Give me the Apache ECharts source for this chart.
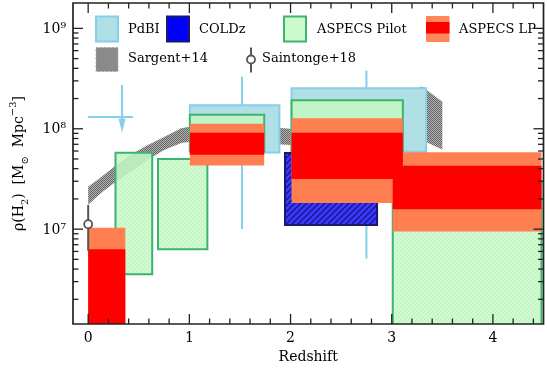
<!DOCTYPE html>
<html><head><meta charset="utf-8">
<script src="https://cdn.jsdelivr.net/npm/echarts@6/dist/echarts.min.js"></script>
<style>html,body{margin:0;padding:0;background:#fff}#c{width:547px;height:376px}</style>
</head><body><div id="c"></div>
<script>
// ---------- data ----------
const xTickValues = [0, 1, 2, 3, 4];
const xTickLabels = ['0', '1', '2', '3', '4'];
const yTickValues = [1e7, 1e8, 1e9];
const yTickLabels = ['10⁷', '10⁸', '10⁹'];

// Sargent+14 band
const sargentZ  = [0, 0.13, 0.26, 0.42, 0.59, 0.75, 0.92, 1.0, 1.5, 2.0, 2.5, 3.0, 3.3, 3.5];
const sargentLo = [1.75e7, 2.3e7, 2.9e7, 3.7e7, 4.9e7, 6.15e7, 7.2e7, 7.4e7, 7.4e7, 6.9e7, 7.4e7, 7.7e7, 7.7e7, 6.2e7];
const sargentHi = [2.65e7, 3.3e7, 4.2e7, 5.5e7, 6.9e7, 8.3e7, 1.01e8, 1.05e8, 1.09e8, 1.0e8, 1.37e8, 2.07e8, 2.63e8, 1.86e8];

// PdBI boxes
const pdbiZmin = [1.005, 2.01];
const pdbiZmax = [1.89, 3.34];
const pdbiLo   = [5.8e7, 5.9e7];
const pdbiHi   = [1.71e8, 2.53e8];
const pdbiErrZ  = [1.52, 2.75];
const pdbiErrLo = [1.0e7, 5.1e6];
const pdbiErrHi = [3.3e8, 3.8e8];
// PdBI upper limit
const pdbiLimZmin = [0.0];
const pdbiLimZmax = [0.443];
const pdbiLimZ    = [0.335];
const pdbiLimVal  = [1.31e8];
const pdbiLimTop  = [2.73e8];
const pdbiLimTip  = [9.1e7];

// COLDz
const coldzZmin = [1.945];
const coldzZmax = [2.855];
const coldzLo   = [1.1e7];
const coldzHi   = [5.72e7];

// ASPECS Pilot
const pilotZmin = [0.27, 0.69, 1.005, 2.01, 3.01];
const pilotZmax = [0.633, 1.178, 1.74, 3.11, 4.48];
const pilotLo   = [3.56e6, 6.3e6, 6.0e7, 5.0e7, 1.0e6];
const pilotHi   = [5.78e7, 5.0e7, 1.38e8, 1.92e8, 3.0e7];

// ASPECS LP
const lpZmin    = [0.0, 1.005, 2.01, 3.01];
const lpZmax    = [0.367, 1.74, 3.11, 4.48];
const lpOuterLo = [1.0e6, 4.3e7, 1.82e7, 9.47e6];
const lpOuterHi = [1.03e7, 1.12e8, 1.27e8, 5.84e7];
const lpInnerLo = [1.0e6, 5.5e7, 3.16e7, 1.58e7];
const lpInnerHi = [6.3e6, 9.1e7, 9.15e7, 4.27e7];

// Saintonge+18
const saintZ   = [0.0];
const saintVal = [1.12e7];
const saintLo  = [6.1e6];
const saintHi  = [1.74e7];

// ---------- axes range ----------
const X_MIN = -0.15, X_MAX = 4.5;
const Y_MIN = 1.135e6, Y_MAX = 1.79e9;
const FONT = 'DejaVu Serif';

// ---------- patterns ----------
function hatch(bg, line, size, lw) {
  const c = document.createElement('canvas'); c.width = c.height = size;
  const g = c.getContext('2d');
  if (bg) { g.fillStyle = bg; g.fillRect(0, 0, size, size); }
  g.strokeStyle = line; g.lineWidth = lw;
  g.beginPath();
  g.moveTo(0, size); g.lineTo(size, 0);
  g.moveTo(-size/2, size/2); g.lineTo(size/2, -size/2);
  g.moveTo(size/2, size*1.5); g.lineTo(size*1.5, size/2);
  g.stroke();
  return { image: c, repeat: 'repeat' };
}
function checker() {
  const c = document.createElement('canvas'); c.width = c.height = 2;
  const g = c.getContext('2d');
  g.fillStyle = 'rgba(100,100,100,1)'; g.fillRect(0, 0, 1, 1); g.fillRect(1, 1, 1, 1);
  g.fillStyle = 'rgba(175,175,175,0.95)'; g.fillRect(1, 0, 1, 1); g.fillRect(0, 1, 1, 1);
  return { image: c, repeat: 'repeat' };
}
const pilotFill = hatch('rgba(200,250,200,0.85)', 'rgba(180,235,180,0.9)', 4, 0.8);
const coldzFill = hatch('#3a3aff', '#16168c', 6, 1.4);
const sargFill = checker();
const lpHatch = hatch('#ff7f50', '#ff9a75', 3, 0.8);

// ---------- render helpers ----------
function boxRender(styleFn) {
  return function (params, api) {
    const a = api.coord([api.value(0), api.value(3)]);
    const b = api.coord([api.value(1), api.value(2)]);
    return { type: 'rect', shape: { x: a[0], y: a[1], width: b[0] - a[0], height: b[1] - a[1] }, style: styleFn() };
  };
}
function boxData(zmin, zmax, lo, hi) { return zmin.map((z, i) => [z, zmax[i], lo[i], hi[i]]); }

const chart = echarts.init(document.getElementById('c'), null, { renderer: 'canvas' });

const option = {
  animation: false,
  backgroundColor: '#fff',
  grid: { left: 71.5, right: 3.5, top: 3, bottom: 52 },
  xAxis: {
    type: 'value', min: X_MIN, max: X_MAX,
    axisLine: { show: false }, axisTick: { show: false }, axisLabel: { show: false }, splitLine: { show: false },
    name: 'Redshift', nameLocation: 'middle', nameGap: 26,
    nameTextStyle: { fontFamily: FONT, fontSize: 14, color: '#000' }
  },
  yAxis: {
    type: 'log', min: Y_MIN, max: Y_MAX,
    axisLine: { show: false }, axisTick: { show: false }, axisLabel: { show: false }, splitLine: { show: false },
    name: '{a|ρ(H}{s|2}{a|)  [M}{s|⊙}{a|  Mpc}{p|−3}{a|]}',
    nameLocation: 'middle', nameGap: 43, nameRotate: 90,
    nameTextStyle: {
      rich: {
        a: { fontFamily: FONT, fontSize: 14, color: '#000', lineHeight: 22 },
        s: { fontFamily: FONT, fontSize: 10, color: '#000', lineHeight: 11, verticalAlign: 'bottom' },
        p: { fontFamily: FONT, fontSize: 10, color: '#000', lineHeight: 11, verticalAlign: 'top' }
      }
    }
  },
  series: [
    // Sargent band
    {
      type: 'custom', z: 1, clip: true,
      data: sargentZ.map((z, i) => [z, sargentLo[i], sargentHi[i]]),
      encode: { x: 0, y: [1, 2] },
      renderItem: function (params, api) {
        if (params.dataIndex !== 0) return null;
        const n = sargentZ.length, top = [], bot = [];
        for (let i = 0; i < n; i++) {
          top.push(api.coord([api.value(0, i), api.value(2, i)]));
          bot.push(api.coord([api.value(0, i), api.value(1, i)]));
        }
        return { type: 'polygon', shape: { points: top.concat(bot.reverse()) }, style: { fill: sargFill, stroke: null } };
      }
    },
    // PdBI error bars and upper limit
    {
      type: 'custom', z: 2, clip: true,
      data: pdbiErrZ.map((z, i) => [z, pdbiErrLo[i], pdbiErrHi[i]]),
      encode: { x: 0, y: [1, 2] },
      renderItem: function (params, api) {
        const a = api.coord([api.value(0), api.value(2)]);
        const b = api.coord([api.value(0), api.value(1)]);
        return { type: 'line', shape: { x1: a[0], y1: a[1], x2: b[0], y2: b[1] }, style: { stroke: '#87ceeb', lineWidth: 2 } };
      }
    },
    {
      type: 'custom', z: 2, clip: true,
      data: pdbiLimZ.map((z, i) => [z, pdbiLimZmin[i], pdbiLimZmax[i], pdbiLimVal[i], pdbiLimTop[i], pdbiLimTip[i]]),
      encode: { x: [0, 1, 2], y: [3, 4, 5] },
      renderItem: function (params, api) {
        const l = api.coord([api.value(1), api.value(3)]);
        const r = api.coord([api.value(2), api.value(3)]);
        const t = api.coord([api.value(0), api.value(4)]);
        const tip = api.coord([api.value(0), api.value(5)]);
        return { type: 'group', children: [
          { type: 'line', shape: { x1: l[0], y1: l[1], x2: r[0], y2: r[1] }, style: { stroke: '#87ceeb', lineWidth: 2 } },
          { type: 'line', shape: { x1: t[0], y1: t[1], x2: tip[0], y2: tip[1] - 8 }, style: { stroke: '#87ceeb', lineWidth: 2 } },
          { type: 'polygon', shape: { points: [[tip[0] - 3.5, tip[1] - 14], [tip[0] + 3.5, tip[1] - 14], [tip[0], tip[1]]] }, style: { fill: '#87ceeb' } }
        ] };
      }
    },
    // PdBI boxes
    {
      type: 'custom', z: 3, clip: true,
      data: boxData(pdbiZmin, pdbiZmax, pdbiLo, pdbiHi),
      encode: { x: [0, 1], y: [2, 3] },
      renderItem: boxRender(() => ({ fill: '#b0dfe5', stroke: '#87ceeb', lineWidth: 2 }))
    },
    // ASPECS Pilot
    {
      type: 'custom', z: 4, clip: true,
      data: boxData(pilotZmin, pilotZmax, pilotLo, pilotHi),
      encode: { x: [0, 1], y: [2, 3] },
      renderItem: boxRender(() => ({ fill: pilotFill, stroke: '#3cb371', lineWidth: 2 }))
    },
    // COLDz
    {
      type: 'custom', z: 5, clip: true,
      data: boxData(coldzZmin, coldzZmax, coldzLo, coldzHi),
      encode: { x: [0, 1], y: [2, 3] },
      renderItem: boxRender(() => ({ fill: coldzFill, stroke: '#191970', lineWidth: 2 }))
    },
    // ASPECS LP outer
    {
      type: 'custom', z: 6, clip: true,
      data: boxData(lpZmin, lpZmax, lpOuterLo, lpOuterHi),
      encode: { x: [0, 1], y: [2, 3] },
      renderItem: boxRender(() => ({ fill: '#ff7f50', stroke: null }))
    },
    // ASPECS LP inner
    {
      type: 'custom', z: 7, clip: true,
      data: boxData(lpZmin, lpZmax, lpInnerLo, lpInnerHi),
      encode: { x: [0, 1], y: [2, 3] },
      renderItem: boxRender(() => ({ fill: '#ff0000', stroke: null }))
    },
    // Saintonge+18
    {
      type: 'custom', z: 8, clip: false,
      data: saintZ.map((z, i) => [z, saintVal[i], saintLo[i], saintHi[i]]),
      encode: { x: 0, y: [1, 2, 3] },
      renderItem: function (params, api) {
        const c = api.coord([api.value(0), api.value(1)]);
        const lo = api.coord([api.value(0), api.value(2)]);
        const hi = api.coord([api.value(0), api.value(3)]);
        return { type: 'group', children: [
          { type: 'line', shape: { x1: hi[0], y1: hi[1], x2: c[0], y2: c[1] - 4 }, style: { stroke: '#555', lineWidth: 2 } },
          { type: 'line', shape: { x1: c[0], y1: c[1] + 4, x2: lo[0], y2: lo[1] }, style: { stroke: '#555', lineWidth: 2 } },
          { type: 'circle', shape: { cx: c[0], cy: c[1], r: 4 }, style: { fill: 'none', stroke: '#555', lineWidth: 1.8 } }
        ] };
      }
    },
    // Frame, ticks, tick labels
    {
      type: 'custom', z: 20, clip: false, silent: true,
      data: [[0, 1e7]],
      encode: { x: 0, y: 1 },
      renderItem: function (params, api) {
        const tl = api.coord([X_MIN, Y_MAX]);
        const br = api.coord([X_MAX, Y_MIN]);
        const ch = [];
        const st = { stroke: '#222', lineWidth: 1.3 };
        ch.push({ type: 'rect', shape: { x: tl[0], y: tl[1], width: br[0] - tl[0], height: br[1] - tl[1] }, style: { fill: 'none', stroke: '#222', lineWidth: 1.7 } });
        // x ticks
        for (let k = Math.ceil(X_MIN * 5); k <= Math.floor(X_MAX * 5); k++) {
          const v = k / 5;
          const major = (k % 5 === 0);
          const len = major ? 10 : 5.5;
          const p = api.coord([v, Y_MIN]);
          ch.push({ type: 'line', shape: { x1: p[0], y1: br[1], x2: p[0], y2: br[1] - len }, style: st });
          ch.push({ type: 'line', shape: { x1: p[0], y1: tl[1], x2: p[0], y2: tl[1] + len }, style: st });
        }
        // y ticks
        for (let e = 6; e <= 9; e++) {
          for (let m = 1; m <= 9; m++) {
            const v = m * Math.pow(10, e);
            if (v < Y_MIN || v > Y_MAX) continue;
            const len = m === 1 ? 10 : 5.5;
            const p = api.coord([X_MIN, v]);
            ch.push({ type: 'line', shape: { x1: tl[0], y1: p[1], x2: tl[0] + len, y2: p[1] }, style: st });
            ch.push({ type: 'line', shape: { x1: br[0], y1: p[1], x2: br[0] - len, y2: p[1] }, style: st });
          }
        }
        // labels
        xTickValues.forEach((v, i) => {
          const p = api.coord([v, Y_MIN]);
          ch.push({ type: 'text', style: { text: xTickLabels[i], x: p[0], y: br[1] + 14, align: 'center', verticalAlign: 'middle', textAlign: 'center', textVerticalAlign: 'middle', font: '14px "DejaVu Serif"', fill: '#000' } });
        });
        yTickValues.forEach((v, i) => {
          const p = api.coord([X_MIN, v]);
          ch.push({ type: 'text', style: { text: yTickLabels[i], x: tl[0] - 7, y: p[1] + 1, align: 'right', verticalAlign: 'middle', textAlign: 'right', textVerticalAlign: 'middle', font: '14px "DejaVu Serif"', fill: '#000' } });
        });
        return { type: 'group', children: ch };
      }
    }
  ],
  graphic: [
    // legend row 1
    { type: 'rect', z: 30, shape: { x: 96, y: 16.5, width: 22, height: 25 }, style: { fill: '#b0dfe5', stroke: '#87ceeb', lineWidth: 2 } },
    { type: 'text', z: 30, style: { text: 'PdBI', x: 128, y: 29.5, verticalAlign: 'middle', font: '13px "DejaVu Serif"', fill: '#000' } },
    { type: 'rect', z: 30, shape: { x: 167, y: 16.5, width: 22, height: 25 }, style: { fill: '#0000ff', stroke: '#191970', lineWidth: 2 } },
    { type: 'text', z: 30, style: { text: 'COLDz', x: 199, y: 29.5, verticalAlign: 'middle', font: '13px "DejaVu Serif"', fill: '#000' } },
    { type: 'rect', z: 30, shape: { x: 284, y: 16.5, width: 22, height: 25 }, style: { fill: '#ccfacc', stroke: '#3cb371', lineWidth: 2 } },
    { type: 'text', z: 30, style: { text: 'ASPECS Pilot', x: 317, y: 29.5, verticalAlign: 'middle', font: '13px "DejaVu Serif"', fill: '#000' } },
    { type: 'rect', z: 30, shape: { x: 426, y: 16, width: 23.5, height: 26 }, style: { fill: lpHatch } },
    { type: 'rect', z: 30, shape: { x: 426, y: 22, width: 23.5, height: 11.5 }, style: { fill: '#ff0000' } },
    { type: 'text', z: 30, style: { text: 'ASPECS LP', x: 459, y: 29.5, verticalAlign: 'middle', font: '13px "DejaVu Serif"', fill: '#000' } },
    // legend row 2
    { type: 'rect', z: 30, shape: { x: 96, y: 47.5, width: 22, height: 24 }, style: { fill: '#8a8a8a', stroke: '#aaa', lineWidth: 1, lineDash: [2, 2] } },
    { type: 'text', z: 30, style: { text: 'Sargent+14', x: 128, y: 58.5, verticalAlign: 'middle', font: '13px "DejaVu Serif"', fill: '#000' } },
    { type: 'line', z: 30, shape: { x1: 251, y1: 47.5, x2: 251, y2: 55.5 }, style: { stroke: '#555', lineWidth: 2 } },
    { type: 'line', z: 30, shape: { x1: 251, y1: 63.5, x2: 251, y2: 72.5 }, style: { stroke: '#555', lineWidth: 2 } },
    { type: 'circle', z: 30, shape: { cx: 251, cy: 59.5, r: 4 }, style: { fill: 'none', stroke: '#555', lineWidth: 1.8 } },
    { type: 'text', z: 30, style: { text: 'Saintonge+18', x: 262, y: 58.5, verticalAlign: 'middle', font: '13px "DejaVu Serif"', fill: '#000' } }
  ]
};
chart.setOption(option);
</script>
</body></html>
